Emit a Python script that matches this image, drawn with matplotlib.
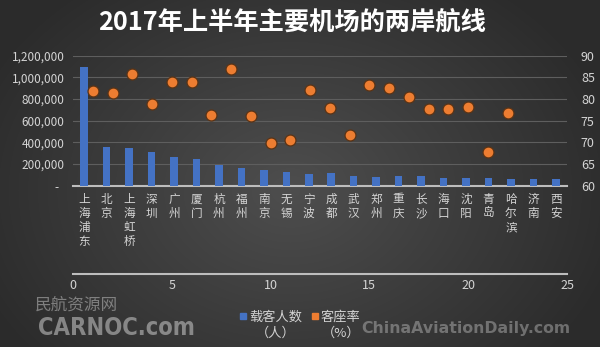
import numpy as np
import matplotlib
matplotlib.use("Agg")
import matplotlib.pyplot as plt
from matplotlib.patches import Rectangle
from matplotlib.lines import Line2D
from matplotlib.ticker import FuncFormatter

plt.rcParams['font.family'] = ['Noto Sans CJK SC', 'DejaVu Sans']

# ---------------- data ----------------
airports = ["上海浦东", "北京", "上海虹桥", "深圳", "广州", "厦门", "杭州", "福州",
            "南京", "无锡", "宁波", "成都", "武汉", "郑州", "重庆", "长沙",
            "海口", "沈阳", "青岛", "哈尔滨", "济南", "西安"]
passengers = [1100000, 360000, 352000, 311000, 268000, 249000, 194000, 166000,
              145000, 129000, 105000, 120000, 90000, 83000, 90000, 90000,
              74000, 74000, 74000, 62000, 59000, 62000]
load_factor = [81.9, 81.5, 85.7, 78.9, 84.0, 83.9, 76.3, 86.9,
               76.1, 69.9, 70.5, 82.2, 78.0, 71.8, 83.2, 82.5,
               80.5, 77.7, 77.7, 78.2, 67.8, 76.7]
series_names = ["载客人数\n（人）", "客座率\n（%）"]
series_colors = ['#4472C4', '#ED7D31']
title = "2017年上半年主要机场的两岸航线"
left_ticks = [0, 200000, 400000, 600000, 800000, 1000000, 1200000]
right_ticks = [60, 65, 70, 75, 80, 85, 90]
bottom_ticks = [0, 5, 10, 15, 20, 25]

W, H = 600, 351
fig = plt.figure(figsize=(W / 100, H / 100), dpi=100)

# background radial gradient
bg = fig.add_axes([0, 0, 1, 1], zorder=-10)
yy, xx = np.mgrid[0:H, 0:W]
d = np.sqrt(((xx - 290) / 340.0) ** 2 + ((yy - 190) / 260.0) ** 2)
d = np.clip(d, 0, 1)
c0 = np.array([0x4e, 0x4e, 0x4e]) / 255
c1 = np.array([0x2b, 0x2b, 0x2b]) / 255
img = c0[None, None, :] * (1 - d[..., None]) + c1[None, None, :] * d[..., None]
bg.imshow(img, aspect='auto', extent=[0, 1, 0, 1])
bg.set_axis_off()
fig.patches.append(Rectangle((0, 0), 1, 4 / H, transform=fig.transFigure,
                             facecolor='white', edgecolor='none', zorder=5))

left, right = 73 / W, 567 / W
bottom, top = 1 - 185.7 / H, 1 - 55.7 / H
pos = [left, bottom, right - left, top - bottom]

lab_col = '#d4d4d4'

ax = fig.add_axes(pos)
ax.set_facecolor('none')
x = np.arange(len(airports))
ax.bar(x, passengers, width=0.34, color=series_colors[0], zorder=3)
ax.set_xlim(-0.5, len(airports) - 0.5)
ax.set_ylim(0, 1200000)
ax.set_yticks(left_ticks)
ax.yaxis.set_major_formatter(FuncFormatter(lambda v, p: "-  " if v == 0 else f"{int(v):,}"))
ax.tick_params(axis='y', length=0, colors=lab_col, labelsize=8.5, pad=6)
ax.set_xticks(x)
ax.set_xticklabels(["\n".join(a) for a in airports], va='top', linespacing=1.12)
ax.tick_params(axis='x', length=0, colors=lab_col, labelsize=8.4, pad=5)
for s in ['top', 'right', 'left']:
    ax.spines[s].set_visible(False)
ax.spines['bottom'].set_color('#bdbdbd')
ax.spines['bottom'].set_linewidth(1.5)
ax.grid(axis='y', color='#5e5e5e', linewidth=0.8, zorder=0)
ax.set_axisbelow(True)

ax2 = fig.add_axes(pos)
ax2.set_facecolor('none')
ax2.scatter(np.arange(1, len(load_factor) + 1), load_factor, s=62,
            color=series_colors[1], edgecolor='#5a3315', linewidth=0.9, zorder=4)
ax2.set_xlim(0, 25)
ax2.set_ylim(60, 90)
ax2.set_yticks(right_ticks)
ax2.set_xticks(bottom_ticks)
ax2.yaxis.tick_right()
ax2.tick_params(axis='y', length=0, colors=lab_col, labelsize=9, pad=10)
ax2.tick_params(axis='x', length=0, colors=lab_col, labelsize=9, pad=4)
for s in ['top', 'right', 'left']:
    ax2.spines[s].set_visible(False)
ax2.spines['bottom'].set_position(('outward', 88 * 0.72))
ax2.spines['bottom'].set_color('#bdbdbd')
ax2.spines['bottom'].set_linewidth(1.5)

fig.text(0.487, 1 - 22 / H, title, ha='center', va='center', color='white',
         fontsize=18.2, fontweight='bold')

# legend (manual, marker aligned to first text line)
leg_x = [243, 315]
for lx, name, col in zip(leg_x, series_names, series_colors):
    fig.add_artist(Line2D([lx / W], [1 - 316 / H], marker='s', color=col,
                          markersize=4.5, linestyle='none', transform=fig.transFigure))
    fig.text((lx + 6) / W, 1 - 325 / H, name, ha='left', va='center',
             multialignment='center', color=lab_col, fontsize=9.5, linespacing=1.25)

# watermarks
wm = '#bfbfbf'
fig.text(35 / W, 1 - 305 / H, "民航资源网", color=wm, alpha=0.55, fontsize=12,
         ha='left', va='center')
fig.text(38 / W, 1 - 328 / H, "CARNOC.com", color=wm, alpha=0.6, fontsize=17,
         fontweight='bold', ha='left', va='center', family='DejaVu Sans', fontstretch='condensed')
fig.text(570 / W, 1 - 329 / H, "ChinaAviationDaily.com", color=wm, alpha=0.45, fontsize=11.3,
         fontweight='bold', ha='right', va='center', family='DejaVu Sans')

fig.savefig("out.png", dpi=100, facecolor='#3a3a3a')
